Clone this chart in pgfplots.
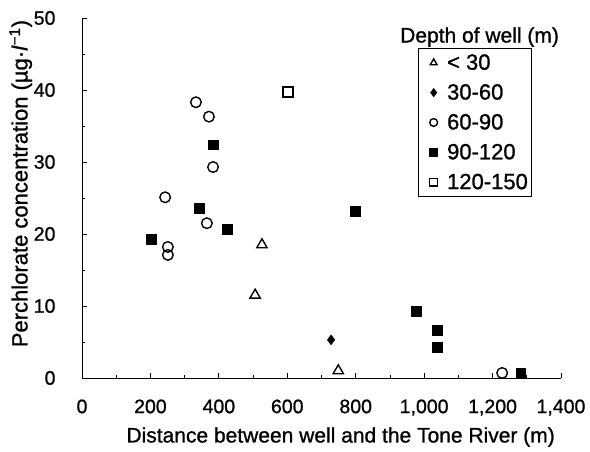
\documentclass[border=0pt]{standalone}
\usepackage{fontspec}
\setmainfont{Liberation Sans}[FakeBold=1]
\usepackage{pgfplots}
\pgfplotsset{compat=1.18}
\begin{document}
\begin{tikzpicture}[x=1pt,y=1pt]
\useasboundingbox (-82,-74) rectangle (508,378);
\begin{axis}[
  at={(0,0)}, anchor=south west,
  scale only axis, width=479pt, height=360pt,
  xmin=0, xmax=1400, ymin=0, ymax=50,
  axis x line*=bottom, axis y line*=left,
  axis line style={-, line width=0.9pt},
  xtick={0,200,...,1400}, ytick={0,10,...,50},
  minor x tick num=1, minor y tick num=1,
  tick align=inside,
  major tick length=5pt, minor tick length=3pt,
  tick style={line width=0.8pt, black},
  /pgf/number format/assume math mode=true,
  /pgf/number format/1000 sep={,},
  ticklabel style={font=\fontsize{19.5}{22}\selectfont},
  xticklabel style={yshift=-18pt},
  yticklabel style={xshift=-23pt},
  xlabel={Distance between well and the Tone River (m)},
  ylabel={Perchlorate concentration (µg·\textit{l}\textsuperscript{−1})},
  label style={font=\fontsize{21}{24}\selectfont},
  xlabel style={at={(axis description cs:0.54,-0.164)}, anchor=center},
  ylabel style={at={(axis description cs:-0.128,0.54)}, anchor=center, font=\fontsize{22}{24}\selectfont},
  clip=false,
  legend style={at={(axis description cs:0.701,0.917)}, anchor=north west,
    draw=black, line width=0.9pt, font=\fontsize{22}{24}\selectfont,
    inner xsep=2pt, inner ysep=4pt, row sep=9pt},
  legend cell align=left,
  legend image code/.code={\draw[#1,mark size=3.9pt] plot coordinates {(13pt,0pt)}; \path (0pt,0pt) (24pt,0pt);},
]
\addplot[only marks, mark=triangle, mark size=6pt, mark options={draw=black, line width=1.4pt}]
  coordinates {(526,18.5) (506,11.5) (749,1.0)};
\addlegendentry{< 30}
\addplot[only marks, mark=diamond*, mark size=5pt, mark options={draw=black, fill=black}]
  coordinates {(728,5.3)};
\addlegendentry{30-60}
\addplot[only marks, mark=o, mark size=5.3pt, mark options={draw=black, line width=1.4pt}]
  coordinates {(333,38.3) (371,36.3) (383,29.3) (243,25.1) (365,21.5) (251,18.2) (251,17.1) (1228,0.7)};
\addlegendentry{60-90}
\addplot[only marks, mark=square*, mark size=4.8pt, mark options={draw=black, fill=black}]
  coordinates {(383,32.4) (342,23.6) (424,20.7) (202,19.3) (798,23.2) (977,9.3) (1038,6.6) (1038,4.3) (1282,0.7)};
\addlegendentry{90-120}
\addplot[only marks, mark=square, mark size=5pt, mark options={draw=black, line width=1.4pt}]
  coordinates {(602,39.7)};
\addlegendentry{120-150}
\node[font=\fontsize{21}{24}\selectfont] at (axis description cs:0.83,0.947) {Depth of well (m)};
\end{axis}
\end{tikzpicture}
\end{document}
